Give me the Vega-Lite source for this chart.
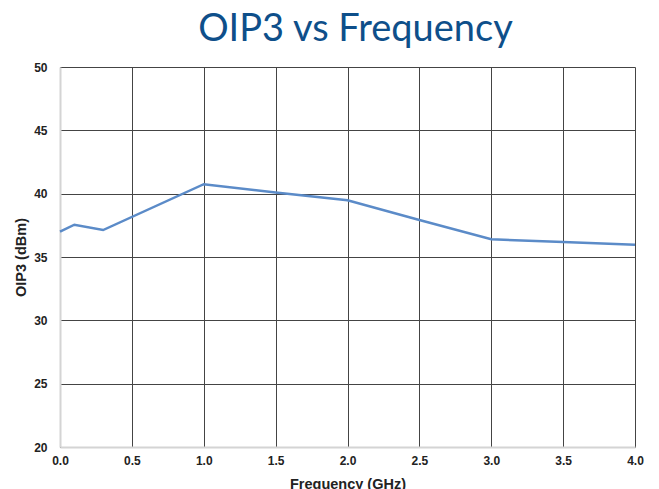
{
  "$schema": "https://vega.github.io/schema/vega-lite/v6.json",
  "autosize": "none",
  "width": 575,
  "height": 380,
  "padding": {"left": 60, "top": 67, "right": 24, "bottom": 42},
  "background": "white",
  "title": {
    "text": "OIP3 vs Frequency",
    "font": "Lato",
    "fontSize": 38,
    "fontWeight": "normal",
    "color": "#0E4F8A",
    "anchor": "middle",
    "baseline": "bottom",
    "dx": 8,
    "dy": 42,
    "offset": 16
  },
  "config": {
    "view": {"stroke": null},
    "axis": {
      "labelFont": "Liberation Sans",
      "labelFontWeight": "bold",
      "labelFontSize": 12,
      "labelColor": "#222222",
      "labelFlush": false,
      "titleFont": "Liberation Sans",
      "titleFontWeight": "bold",
      "titleFontSize": 14.5,
      "titleColor": "#222222",
      "grid": true,
      "gridColor": "#444444",
      "gridWidth": 1,
      "gridOpacity": 1,
      "domainColor": "#d4d4d4",
      "domainWidth": 2,
      "ticks": false
    }
  },
  "data": {
    "values": [
      {"freq": 0.0, "oip3": 37.0},
      {"freq": 0.1, "oip3": 37.55},
      {"freq": 0.3, "oip3": 37.13},
      {"freq": 1.0, "oip3": 40.75},
      {"freq": 1.5, "oip3": 40.1},
      {"freq": 2.0, "oip3": 39.48},
      {"freq": 2.5, "oip3": 37.92},
      {"freq": 3.0, "oip3": 36.4},
      {"freq": 3.5, "oip3": 36.18},
      {"freq": 4.0, "oip3": 35.97}
    ]
  },
  "mark": {"type": "line", "color": "#5B8BC8", "strokeWidth": 2.5},
  "encoding": {
    "x": {
      "field": "freq",
      "type": "quantitative",
      "scale": {"domain": [0, 4], "nice": false},
      "axis": {
        "title": "Frequency (GHz)",
        "values": [0, 0.5, 1, 1.5, 2, 2.5, 3, 3.5, 4],
        "format": ".1f",
        "labelPadding": 8,
        "titleBaseline": "alphabetic",
        "titleY": 41
      }
    },
    "y": {
      "field": "oip3",
      "type": "quantitative",
      "scale": {"domain": [20, 50], "nice": false},
      "axis": {
        "title": "OIP3 (dBm)",
        "values": [20, 25, 30, 35, 40, 45, 50],
        "format": "d",
        "labelPadding": 13,
        "titleBaseline": "middle",
        "titleX": -39,
        "titleY": 190
      }
    }
  }
}
